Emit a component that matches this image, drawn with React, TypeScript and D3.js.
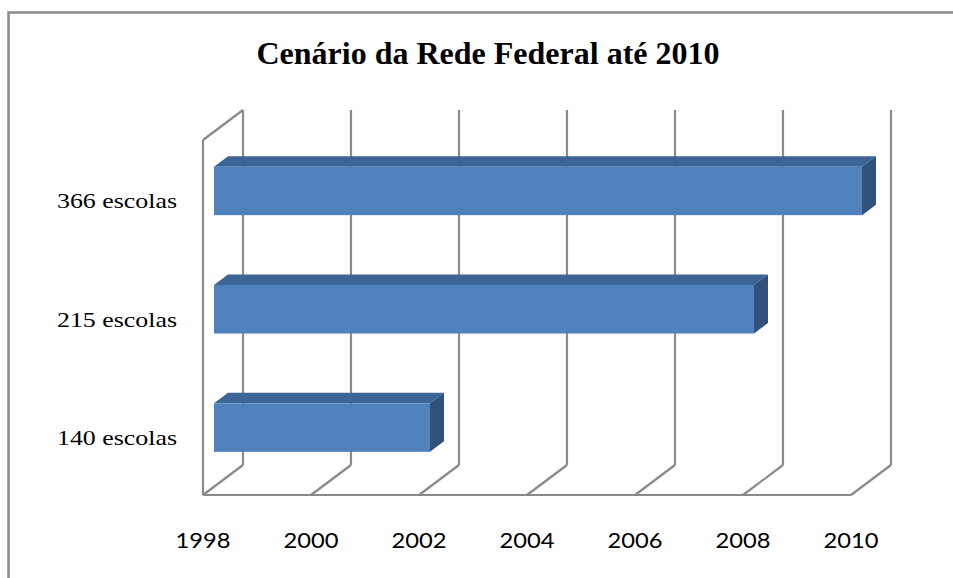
import React from "react";
import * as d3 from "d3";

// categories (top to bottom) and the year each bar reaches
const categories = ["366 escolas", "215 escolas", "140 escolas"];
const yearValues = [2010, 2008, 2002];
const tickYears = [1998, 2000, 2002, 2004, 2006, 2008, 2010];
const title = "Cenário da Rede Federal até 2010";

const W = 953;
const H = 578;

// 3D box geometry (front plane + depth offset)
const front = { left: 203, right: 851, top: 140, bottom: 495 };
const depth = { dx: 40, dy: -30 };
const barDepth = { start: 0.275, end: 0.625 };

const App = () => {
  const x = d3.scaleLinear().domain([1998, 2010]).range([front.left, front.right]);
  const y = d3
    .scaleBand()
    .domain(categories)
    .range([front.top, front.bottom])
    .paddingInner(0.59)
    .paddingOuter(0.295);

  const grid = "#8a8a8a";
  const backX = (v) => x(v) + depth.dx;
  const backTop = front.top + depth.dy;
  const backBottom = front.bottom + depth.dy;

  const sx0 = depth.dx * barDepth.start;
  const sy0 = depth.dy * barDepth.start;
  const bdx = depth.dx * (barDepth.end - barDepth.start);
  const bdy = depth.dy * (barDepth.end - barDepth.start);

  return (
    <svg width={W} height={H} style={{ display: "block", position: "absolute", left: 0, top: 0 }}>
      <rect x={0} y={0} width={W} height={H} fill="#fff" />
      <rect x={8.5} y={12.5} width={W + 20} height={H + 20} fill="none" stroke="#8a8a8a" strokeWidth={2.5} />

      <text
        x={488}
        y={64}
        textAnchor="middle"
        fontFamily="'Liberation Serif', 'Times New Roman', serif"
        fontWeight="bold"
        fontSize={32}
        textLength={463}
        lengthAdjust="spacingAndGlyphs"
      >
        {title}
      </text>

      {/* walls and floor */}
      <g stroke={grid} strokeWidth={2.2} fill="none">
        <line x1={front.left} y1={front.top} x2={front.left} y2={front.bottom} />
        <line x1={front.left} y1={front.top} x2={backX(1998)} y2={backTop} />
        <line x1={front.left} y1={front.bottom} x2={front.right} y2={front.bottom} />
        {tickYears.map((t) => (
          <g key={t}>
            <line x1={backX(t)} y1={backTop} x2={backX(t)} y2={backBottom} />
            <line x1={x(t)} y1={front.bottom} x2={backX(t)} y2={backBottom} />
          </g>
        ))}
      </g>

      {/* bars */}
      {categories.map((c, i) => {
        const x0 = x(1998) + sx0;
        const x1 = x(yearValues[i]) + sx0;
        const yT = y(c) + sy0;
        const yB = yT + y.bandwidth();
        return (
          <g key={c}>
            <polygon
              points={`${x0},${yT} ${x1},${yT} ${x1 + bdx},${yT + bdy} ${x0 + bdx},${yT + bdy}`}
              fill="#3c6494"
            />
            <polygon
              points={`${x1},${yT} ${x1 + bdx},${yT + bdy} ${x1 + bdx},${yB + bdy} ${x1},${yB}`}
              fill="#31507a"
            />
            <rect x={x0} y={yT} width={x1 - x0} height={yB - yT} fill="#4f81bd" />
          </g>
        );
      })}

      {/* category labels */}
      {categories.map((c) => (
        <text
          key={c}
          x={177}
          y={y(c) + y.bandwidth() / 2 + 9}
          textAnchor="end"
          fontFamily="'Liberation Serif', 'Times New Roman', serif"
          fontSize={22}
          textLength={120}
          lengthAdjust="spacingAndGlyphs"
        >
          {c}
        </text>
      ))}

      {/* year ticks */}
      {tickYears.map((t) => (
        <text
          key={t}
          x={x(t)}
          y={548}
          textAnchor="middle"
          fontFamily="Lato, 'Open Sans', sans-serif"
          fontSize={21}
          textLength={55}
          lengthAdjust="spacingAndGlyphs"
        >
          {t}
        </text>
      ))}
    </svg>
  );
};

export default App;
